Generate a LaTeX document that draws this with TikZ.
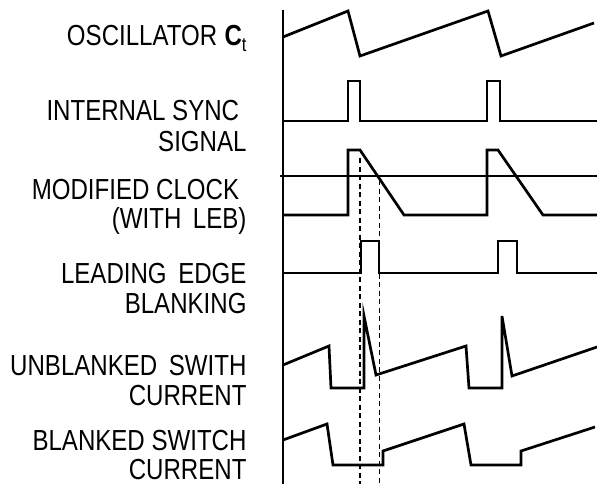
\documentclass[tikz,border=0pt]{standalone}
\usepackage{fontspec}
\setmainfont[FakeStretch=0.83]{Liberation Sans}
\newcommand{\wsp}{\hspace{0.4em}}
\begin{document}
\begin{tikzpicture}[x=1pt,y=-1pt,
  wave/.style={line width=2.7pt,line join=miter,line cap=butt},
  axisline/.style={line width=1.8pt},
  guide/.style={line width=1.9pt,dash pattern=on 5pt off 3.5pt},
  lbl/.style={anchor=base east,inner sep=0pt,font=\fontsize{29}{30}\selectfont}]
\useasboundingbox (0,0) rectangle (597,484);
% labels
\node[lbl] (l1) at (246.7,45.5) {OSCILLATOR\hspace{0.25em}{\bfseries C}\raisebox{-0.22em}{\fontsize{20}{20}\selectfont t}};
\node[lbl] (l2a) at (239.3,120.5) {INTERNAL SYNC};
\node[lbl] (l2b) at (246.7,151.5) {SIGNAL};
\node[lbl] (l3a) at (239.3,199) {MODIFIED CLOCK};
\node[lbl] (l3b) at (246.7,228.5) {(WITH\wsp LEB)};
\node[lbl] (l4a) at (246.7,283.5) {LEADING\wsp EDGE};
\node[lbl] (l4b) at (246.7,313.5) {BLANKING};
\node[lbl] (l5a) at (246.7,375) {UNBLANKED\wsp SWITH};
\node[lbl] (l5b) at (246.7,405) {CURRENT};
\node[lbl] (l6a) at (246.7,450) {BLANKED SWITCH};
\node[lbl] (l6b) at (246.7,479) {CURRENT};
% axis
\draw[axisline] (283,10) -- (283,484);
% oscillator
\draw[wave] (283,37) -- (348,11) -- (360,56) -- (488,11) -- (501,56) -- (594,23);
% internal sync
\draw[wave] (283,121) -- (348,121) -- (348,81) -- (360,81) -- (360,121) -- (487,121) -- (487,81) -- (500,81) -- (500,121) -- (597,121);
% modified clock
\draw[axisline] (280,176) -- (597,176);
\draw[wave] (283,215) -- (348,215) -- (348,150) -- (360,150) -- (404,215) -- (487,215) -- (487,150) -- (498,150) -- (543,215) -- (597,215);
% leading edge blanking
\draw[wave] (283,273) -- (361,273) -- (361,241) -- (379,241) -- (379,273) -- (498,273) -- (498,241) -- (517,241) -- (517,273) -- (597,273);
% unblanked switch current
\draw[wave] (283,365) -- (329,346) -- (331,388) -- (364,388) -- (364,316) -- (376,375) -- (466,346) -- (469,388) -- (502,388) -- (502,316) -- (512,376) -- (597,347);
% blanked switch current
\draw[wave] (283,440) -- (327,424) -- (333,465) -- (383,465) -- (383,451) -- (464,424) -- (471,465) -- (521,465) -- (521,451) -- (595,427);
% dashed guides
\coordinate (g1t) at (360,158); \coordinate (g1b) at (360,484);
\coordinate (g2t) at (379.5,180); \coordinate (g2b) at (379.5,484);
\draw[guide] (g1t) -- (g1b);
\draw[guide] (g2t) -- (g2b);
\end{tikzpicture}
\end{document}
